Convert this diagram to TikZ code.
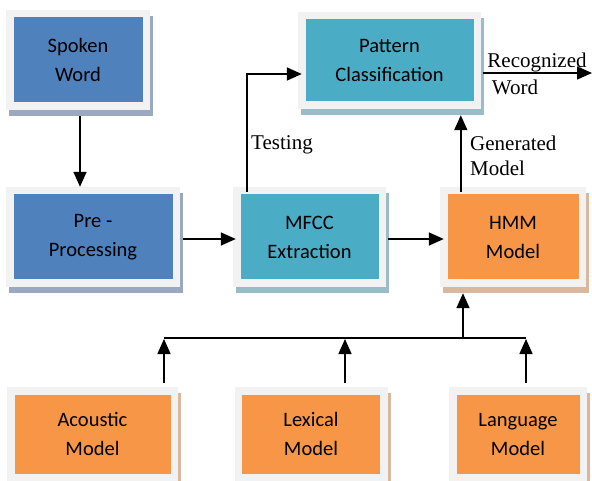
\documentclass[tikz,border=0pt]{standalone}
\usepackage{fontspec}
\setmainfont{Liberation Serif}
\newfontfamily\boxfont{Carlito}
\usetikzlibrary{arrows.meta,shadows,calc}

\definecolor{framegray}{HTML}{F2F2F2}
\definecolor{bluefill}{HTML}{4F81BD}
\definecolor{cyanfill}{HTML}{4BACC6}
\definecolor{orangefill}{HTML}{F79646}
\definecolor{blueshadow}{HTML}{9AA8C0}
\definecolor{cyanshadow}{HTML}{98BCC8}
\definecolor{orangeshadow}{HTML}{D9B89E}

\tikzset{
  blk/.style 2 args={
    fill=framegray, inner sep=0pt, align=center,
    font=\boxfont\fontsize{20.5}{29}\selectfont,
    general shadow={fill=#2, shadow xshift=3pt, shadow yshift=-6pt},
    path picture={\fill[#1]
      ([shift={(7.5pt,-7.5pt)}]path picture bounding box.north west) rectangle
      ([shift={(-7.5pt,7.5pt)}]path picture bounding box.south east);}
  },
  arr/.style={draw=black, line width=1.6pt, -{Triangle[length=15pt,width=13pt]}},
  wire/.style={draw=black, line width=1.6pt},
  lbl/.style={font=\fontsize{21}{24}\selectfont, inner sep=0pt}
}

\begin{document}
\begin{tikzpicture}[x=1pt,y=-1pt]
  \fill[white] (0,0) rectangle (592,481);
  \useasboundingbox (0,0) rectangle (592,481);

  % processing chain
  \node[blk={bluefill}{blueshadow}, minimum width=144pt, minimum height=100pt]
    (spoken) at (78,60) {Spoken\\Word};
  \node[blk={bluefill}{blueshadow}, minimum width=174pt, minimum height=100pt]
    (pre) at (93,237) {Pre -\\Processing};
  \node[blk={cyanfill}{cyanshadow}, minimum width=153pt, minimum height=100pt]
    (mfcc) at (309.5,237) {MFCC\\Extraction};
  \node[blk={orangefill}{orangeshadow}, minimum width=146pt, minimum height=100pt]
    (hmm) at (513,237) {HMM\\Model};
  \node[blk={cyanfill}{cyanshadow}, minimum width=183pt, minimum height=97pt]
    (pattern) at (389.5,60.5) {Pattern\\Classification};

  % knowledge sources
  \node[blk={orangefill}{orangeshadow}, minimum width=171pt, minimum height=94pt]
    (acoustic) at (92.5,434) {Acoustic\\Model};
  \node[blk={orangefill}{orangeshadow}, minimum width=153pt, minimum height=94pt]
    (lexical) at (311,434) {Lexical\\Model};
  \node[blk={orangefill}{orangeshadow}, minimum width=138pt, minimum height=94pt]
    (language) at (518,434) {Language\\Model};

  % connectors of the chain
  \draw[arr] ([shift={(2pt,-6pt)}]spoken.south) -- ([xshift=2pt]spoken.south |- pre.north);
  \draw[arr] ([shift={(3pt,-2pt)}]pre.east) -- ([shift={(3pt,-2pt)}]mfcc.west);
  \draw[arr] ([shift={(2pt,-2pt)}]mfcc.east) -- ([shift={(4pt,-2pt)}]hmm.west);
  \draw[arr] ([shift={(14pt,-5pt)}]mfcc.north west) |- ([shift={(4pt,-13.5pt)}]pattern.west);

  \coordinate (hmmtop) at ([shift={(21pt,-5pt)}]hmm.north west);
  \draw[arr] (hmmtop) -- ($(hmmtop |- pattern.south)+(0,6)$);

  \coordinate (out) at (592,73);
  \draw[arr] ([shift={(2pt,-12.5pt)}]pattern.east) -- (out);

  % labels
  \node[lbl] (reclbl) at (537,62) {Recognized};
  \node[lbl] (wordlbl) at (515,87) {Word};
  \node[lbl] (testlbl) at (282,145) {Testing};
  \node[lbl, anchor=west] (genlbl) at (470,143) {Generated};
  \node[lbl, anchor=west] (modlbl) at (470,168) {Model};

  % bus from the knowledge sources into the HMM
  \coordinate (busL) at (164,338);
  \coordinate (busM) at (345,338);
  \coordinate (busJ) at (463,338);
  \coordinate (busR) at (526,338);
  \draw[wire] (busL) -- (busR);
  \draw[arr] (busJ) -- ($(busJ |- hmm.south)+(0,6)$);
  \draw[arr] ([yshift=4pt]acoustic.north -| busL) -- ([yshift=-1pt]busL);
  \draw[arr] ([yshift=4pt]lexical.north -| busM) -- ([yshift=-1pt]busM);
  \draw[arr] ([yshift=4pt]language.north -| busR) -- ([yshift=-1pt]busR);
\end{tikzpicture}
\end{document}
